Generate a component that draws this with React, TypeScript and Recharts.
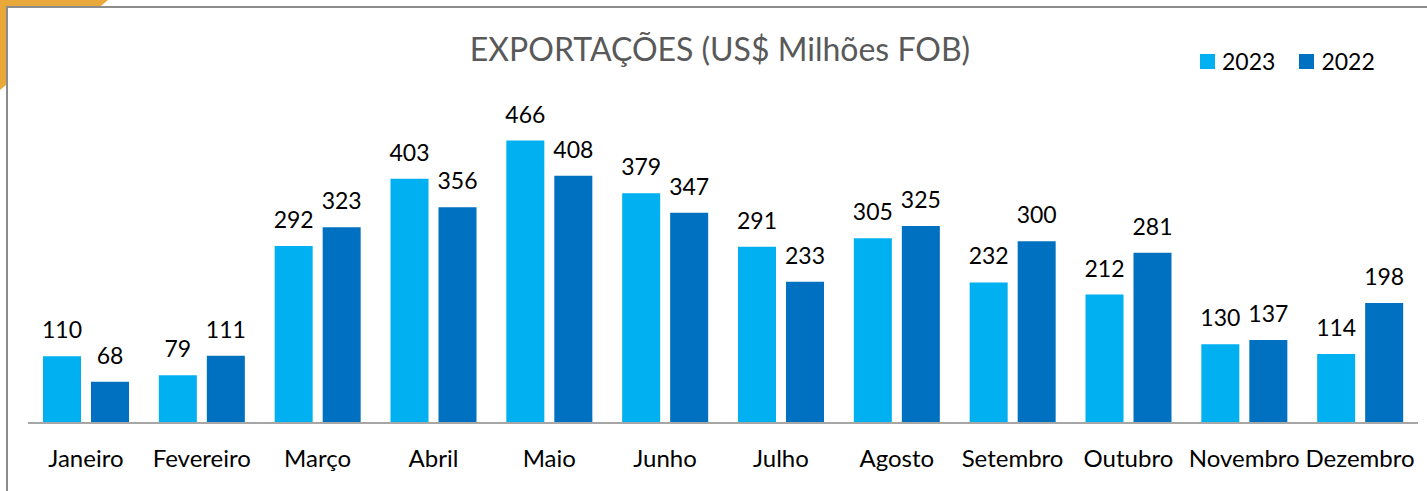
import { BarChart, Bar, XAxis, YAxis, LabelList } from 'recharts'

const months = ['Janeiro', 'Fevereiro', 'Março', 'Abril', 'Maio', 'Junho', 'Julho', 'Agosto', 'Setembro', 'Outubro', 'Novembro', 'Dezembro']
const exp2023 = [110, 79, 292, 403, 466, 379, 291, 305, 232, 212, 130, 114]
const exp2022 = [68, 111, 323, 356, 408, 347, 233, 325, 300, 281, 137, 198]

const data = months.map((m, i) => ({ month: m, y2023: exp2023[i], y2022: exp2022[i] }))

const FONT = 'Lato, "Open Sans", sans-serif'

const legendItems = [
  { c: '#00B0F0', t: '2023' },
  { c: '#0070C0', t: '2022' },
]

export default function App() {
  return (
    <div style={{ position: 'absolute', left: 0, top: 0, width: 1427, height: 491, background: '#fff', overflow: 'hidden' }}>
      <svg width={120} height={100} style={{ position: 'absolute', left: 0, top: 0 }}>
        <polygon points="0,0 108,0 0,90" fill="#E9A93A" />
      </svg>
      <div
        style={{
          position: 'absolute',
          left: 6,
          top: 6,
          width: 1430,
          height: 500,
          borderLeft: '2px solid #8C8C8C',
          borderTop: '2px solid #8C8C8C',
          background: '#fff',
        }}
      />
      <div
        style={{
          position: 'absolute',
          left: 0,
          width: 1440,
          top: 29,
          textAlign: 'center',
          fontFamily: FONT,
          fontSize: 32,
          color: '#595959',
        }}
      >
        EXPORTAÇÕES (US$ Milhões FOB)
      </div>
      <div style={{ position: 'absolute', left: 1200, top: 47, display: 'flex', gap: 24, fontFamily: FONT, fontSize: 23, color: '#000' }}>
        {legendItems.map((it) => (
          <div key={it.t} style={{ display: 'flex', alignItems: 'center', gap: 7 }}>
            <span style={{ width: 15, height: 15, background: it.c, display: 'inline-block' }} />
            <span>{it.t}</span>
          </div>
        ))}
      </div>
      <div style={{ position: 'absolute', left: 0, top: 0 }}>
        <BarChart
          width={1427}
          height={491}
          data={data}
          margin={{ top: 120, right: 9, bottom: 67, left: 28 }}
          barSize={38}
          barGap={10}
        >
          <XAxis
            dataKey="month"
            height={1}
            axisLine={{ stroke: '#A6A6A6', strokeWidth: 2 }}
            tickLine={false}
            interval={0}
            tick={{ fill: '#000', fontSize: 24, fontFamily: FONT, dy: 19 }}
          />
          <YAxis hide domain={[0, 500]} />
          <Bar dataKey="y2023" fill="#00B0F0" isAnimationActive={false}>
            <LabelList dataKey="y2023" position="top" offset={18} style={{ fill: '#000', fontSize: 23, fontFamily: FONT }} />
          </Bar>
          <Bar dataKey="y2022" fill="#0070C0" isAnimationActive={false}>
            <LabelList dataKey="y2022" position="top" offset={18} style={{ fill: '#000', fontSize: 23, fontFamily: FONT }} />
          </Bar>
        </BarChart>
      </div>
    </div>
  )
}
